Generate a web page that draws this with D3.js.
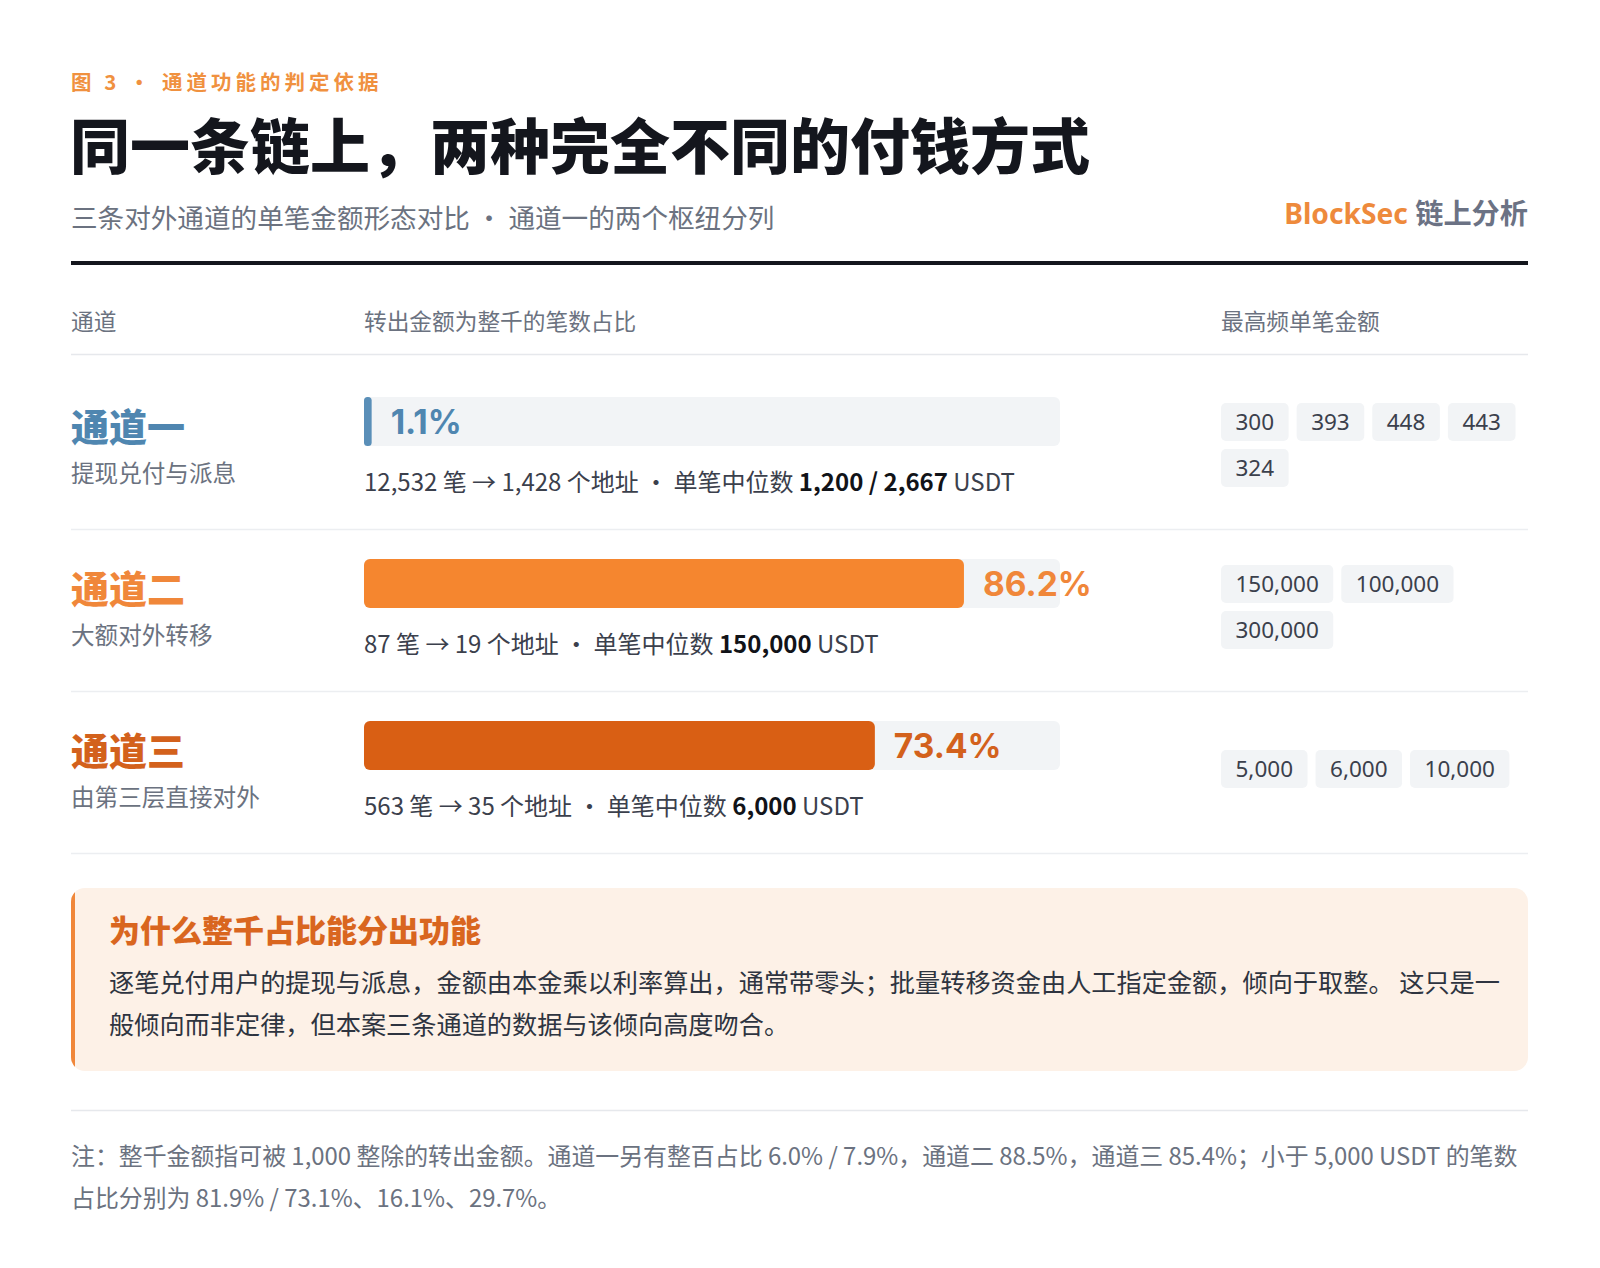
<!DOCTYPE html>
<html><head><meta charset="utf-8">
<script src="https://cdn.jsdelivr.net/npm/d3@7"></script>
<style>
html,body{margin:0;padding:0;background:#fff;}
svg{display:block;}
text{font-family:"Noto Sans","Noto Sans CJK SC",sans-serif;}
.cjk{font-family:"Noto Sans CJK SC","Noto Sans",sans-serif;}
</style></head>
<body>
<script>
// ---- data ----
const channels = ["通道一", "通道二", "通道三"];
const channelDesc = ["提现兑付与派息", "大额对外转移", "由第三层直接对外"];
const roundShare = [1.1, 86.2, 73.4];
const txCounts = ["12,532", "87", "563"];
const addrCounts = ["1,428", "19", "35"];
const medians = ["1,200 / 2,667", "150,000", "6,000"];
const topAmounts = [
  ["300", "393", "448", "443", "324"],
  ["150,000", "100,000", "300,000"],
  ["5,000", "6,000", "10,000"]
];
const headers = ["通道", "转出金额为整千的笔数占比", "最高频单笔金额"];
const kicker = "图 3 · 通道功能的判定依据";
const title = "同一条链上，两种完全不同的付钱方式";
const subtitle = "三条对外通道的单笔金额形态对比 · 通道一的两个枢纽分列";
const calloutTitle = "为什么整千占比能分出功能";
const calloutLines = [
  "逐笔兑付用户的提现与派息，金额由本金乘以利率算出，通常带零头；批量转移资金由人工指定金额，倾向于取整。 这只是一",
  "般倾向而非定律，但本案三条通道的数据与该倾向高度吻合。"
];
const noteLines = [
  "注：整千金额指可被 1,000 整除的转出金额。通道一另有整百占比 6.0% / 7.9%，通道二 88.5%，通道三 85.4%；小于 5,000 USDT 的笔数",
  "占比分别为 81.9% / 73.1%、16.1%、29.7%。"
];

// ---- style ----
const nameColors = ["#4f86b0", "#f0873a", "#d3611c"];
const barColors = ["#5a8fb8", "#f5862f", "#d95f14"];
const W = 1600, H = 1268, L = 71, R = 1528;

const svg = d3.select("body").append("svg").attr("width", W).attr("height", H);
svg.append("rect").attr("width", W).attr("height", H).attr("fill", "#fff");

// header block
svg.append("text").attr("class","cjk").attr("x", L).attr("y", 90).attr("font-size", 20.5).attr("font-weight", 700)
  .attr("letter-spacing", 4).attr("fill", "#f0913f").text(kicker);
svg.append("text").attr("class","cjk").attr("x", L-1).attr("y", 169).attr("font-size", 60).attr("font-weight", 900)
  .attr("fill", "#14161d").text(title);
svg.append("text").attr("class","cjk").attr("x", L).attr("y", 228).attr("font-size", 26.6).attr("font-weight", 400)
  .attr("fill", "#6b7280").text(subtitle);
const brand = svg.append("text").attr("x", R).attr("y", 224).attr("text-anchor", "end")
  .attr("font-size", 28.2).attr("font-weight", 700);
brand.append("tspan").attr("fill", "#ee8a3c").text("BlockSec ");
brand.append("tspan").attr("fill", "#6b7284").style("font-family","'Noto Sans CJK SC'").text("链上分析");
svg.append("rect").attr("x", L).attr("y", 261).attr("width", R - L).attr("height", 4).attr("fill", "#14161d");

// column headers
const colX = [L, 364, 1221];
headers.forEach((h, i) => {
  svg.append("text").attr("class","cjk").attr("x", colX[i]).attr("y", 330).attr("font-size", 22.7)
    .attr("fill", "#6b7280").text(h);
});
svg.append("line").attr("x1", L).attr("x2", R).attr("y1", 354.5).attr("y2", 354.5)
  .attr("stroke", "#e6e8ec").attr("stroke-width", 1.5);

// scales
const x = d3.scaleLinear().domain([0, 100]).range([0, 696]);
const rowY = d3.scaleBand().domain(channels).range([354, 840]);

channels.forEach((c, i) => {
  const y0 = rowY(c);
  const g = svg.append("g").attr("transform", `translate(0,${y0})`);
  // name
  g.append("text").attr("class","cjk").attr("x", L).attr("y", 87).attr("font-size", 38).attr("font-weight", 900)
    .attr("fill", nameColors[i]).text(c);
  g.append("text").attr("class","cjk").attr("x", L).attr("y", 128).attr("font-size", 23.6)
    .attr("fill", "#6b7280").text(channelDesc[i]);
  // track
  const barTop = 43;
  g.append("rect").attr("x", 364).attr("y", barTop).attr("width", x(100)).attr("height", 49)
    .attr("rx", 6).attr("fill", "#f2f4f6");
  g.append("rect").attr("x", 364).attr("y", barTop).attr("width", x(roundShare[i])).attr("height", 49)
    .attr("rx", i === 0 ? 3.5 : 6).attr("fill", barColors[i]);
  g.append("text").attr("x", 364 + x(roundShare[i]) + 19).attr("y", barTop + 37)
    .style("font-family", "Inter,'Noto Sans',sans-serif")
    .attr("font-size", 33.5).attr("font-weight", 700).attr("fill", nameColors[i])
    .text(roundShare[i].toFixed(1) + "%");
  // stats line
  const st = g.append("text").attr("x", 364).attr("y", 137).attr("font-size", 24).attr("fill", "#3b404c")
    .style("font-family", "'Noto Sans CJK SC','Noto Sans',sans-serif");
  st.append("tspan").text(`${txCounts[i]} 笔 → ${addrCounts[i]} 个地址 · 单笔中位数 `);
  st.append("tspan").attr("font-weight", 700).attr("fill", "#111318").text(medians[i]);
  st.append("tspan").text(" USDT");
  // chips
  const chipH = 38, gap = 8, colW = R - 1221;
  const chips = g.append("g");
  let cx = 0, line = 0;
  const placed = [];
  topAmounts[i].forEach(v => {
    const t = chips.append("text").attr("font-size", 22.5).attr("fill", "#3b404c").text(v);
    const w = t.node().getComputedTextLength() + 29;
    if (cx + w > colW && cx > 0) { cx = 0; line++; }
    placed.push({t, w, cx, line});
    cx += w + gap;
  });
  const lines = line + 1;
  const blockH = lines * chipH + (lines - 1) * gap;
  const startY = 91 - blockH / 2;
  placed.forEach(p => {
    const cy = startY + p.line * (chipH + gap);
    chips.insert("rect", "text").attr("x", 1221 + p.cx).attr("y", cy).attr("width", p.w).attr("height", chipH)
      .attr("rx", 5).attr("fill", "#f2f4f6");
    p.t.attr("x", 1221 + p.cx + 14.5).attr("y", cy + 27);
  });
  // separator
  svg.append("line").attr("x1", L).attr("x2", R).attr("y1", y0 + 175.5).attr("y2", y0 + 175.5)
    .attr("stroke", "#eceef1").attr("stroke-width", 1.5);
});

// callout
const cb = {x: L, y: 888, w: R - L, h: 183};
const defs = svg.append("defs");
defs.append("clipPath").attr("id", "cbclip").append("rect")
  .attr("x", cb.x).attr("y", cb.y).attr("width", cb.w).attr("height", cb.h).attr("rx", 14);
const cg = svg.append("g").attr("clip-path", "url(#cbclip)");
cg.append("rect").attr("x", cb.x).attr("y", cb.y).attr("width", cb.w).attr("height", cb.h).attr("fill", "#fdf1e7");
cg.append("rect").attr("x", cb.x).attr("y", cb.y).attr("width", 4).attr("height", cb.h).attr("fill", "#f0873a");
svg.append("text").attr("class","cjk").attr("x", 109).attr("y", 942).attr("font-size", 31).attr("font-weight", 900)
  .attr("fill", "#d9661f").text(calloutTitle);
calloutLines.forEach((l, k) => {
  svg.append("text").attr("class","cjk").attr("x", 109).attr("y", 992 + k * 42).attr("font-size", 25.2)
    .attr("fill", "#2e3440").text(l);
});

// footer
svg.append("line").attr("x1", L).attr("x2", R).attr("y1", 1110.5).attr("y2", 1110.5)
  .attr("stroke", "#e6e8ec").attr("stroke-width", 1.5);
noteLines.forEach((l, k) => {
  svg.append("text").attr("x", L).attr("y", 1165 + k * 42).attr("font-size", 23.9)
    .style("font-family", "'Noto Sans CJK SC','Noto Sans',sans-serif")
    .attr("fill", "#6b7280").text(l);
});
</script>
</body></html>
